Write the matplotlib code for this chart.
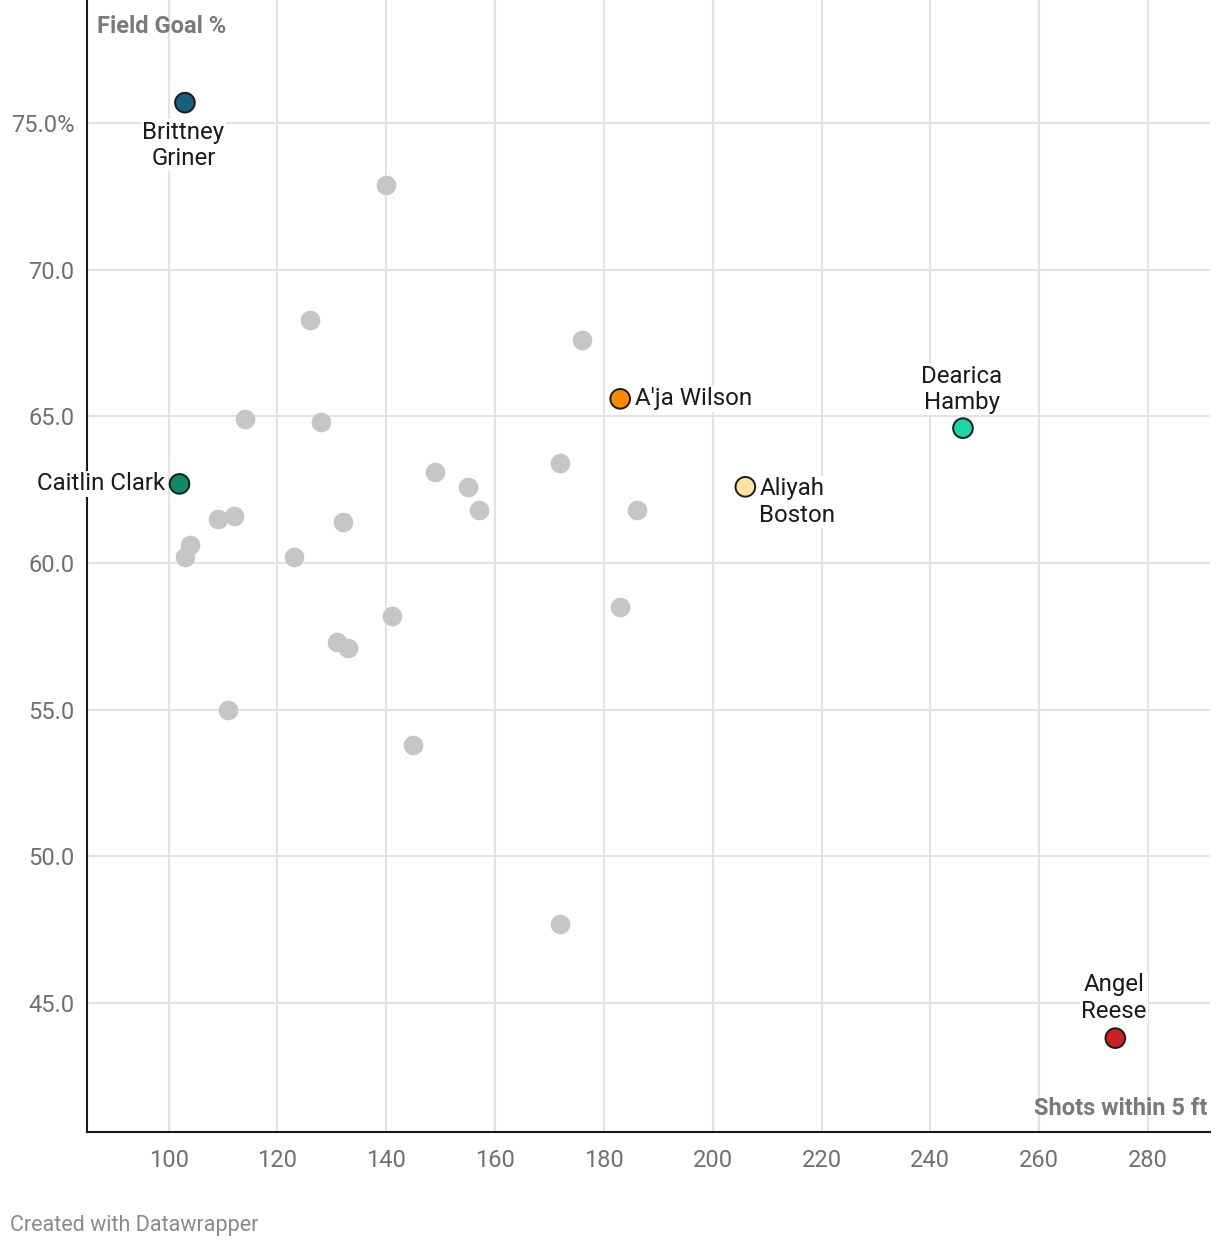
import matplotlib.pyplot as plt

plt.rcParams['font.family'] = ['Roboto', 'DejaVu Sans']

# --- DATA ---
gray_x = [140, 126, 176, 114, 128, 149, 155, 172, 157, 186, 109, 112, 132, 104, 103,
          123, 183, 141, 131, 133, 111, 145, 172]
gray_y = [72.9, 68.3, 67.6, 64.9, 64.8, 63.1, 62.6, 63.4, 61.8, 61.8, 61.5, 61.6, 61.4,
          60.6, 60.2, 60.2, 58.5, 58.2, 57.3, 57.1, 55.0, 53.8, 47.7]

names = ["Brittney\nGriner", "A'ja Wilson", "Dearica\nHamby", "Caitlin Clark",
         "Aliyah\nBoston", "Angel\nReese"]
hl_x = [103, 183, 246, 102, 206, 274]
hl_y = [75.7, 65.6, 64.6, 62.7, 62.6, 43.8]
hl_colors = ["#15607a", "#f88a02", "#1ad6a9", "#0c8a6a", "#fde3a0", "#c92126"]

x_ticks = [100, 120, 140, 160, 180, 200, 220, 240, 260, 280]
y_ticks = [45, 50, 55, 60, 65, 70, 75]
y_labels = ["45.0", "50.0", "55.0", "60.0", "65.0", "70.0", "75.0%"]

# --- PLOT ---
fig = plt.figure(figsize=(12.2, 12.48), dpi=100)
ax = fig.add_axes([87 / 1220, 116 / 1248, 1123 / 1220, 1132 / 1248])

ax.set_xlim(85, 291.4)
ax.set_ylim(40.6, 79.2)

ax.scatter(gray_x, gray_y, s=200, color="#c6c6c6", linewidths=0, zorder=3)
ax.scatter(hl_x, hl_y, s=200, color=hl_colors, edgecolors="#1a1a1a",
           linewidths=1.4, zorder=4)

# label placement (offsets in points)
offsets = [(-1, -13, "center", "top"), (11, 0, "left", "center"),
           (-1, 10, "center", "bottom"), (-10, 0, "right", "center"),
           (10, 7, "left", "top"), (-1, 11, "center", "bottom")]
for n, x, y, (dx, dy, ha, va) in zip(names, hl_x, hl_y, offsets):
    ax.annotate(n, (x, y), xytext=(dx, dy), textcoords="offset points",
                ha=ha, va=va, fontsize=17.3, color="#1a1a1a", linespacing=1.2,
                zorder=5, annotation_clip=False,
                bbox=dict(boxstyle="square,pad=0.05", fc="white", ec="none"))

ax.set_xticks(x_ticks)
ax.set_yticks(y_ticks)
ax.set_yticklabels(y_labels)
ax.tick_params(length=0, labelsize=17, labelcolor="#707070")
ax.tick_params(axis="x", pad=12)
ax.tick_params(axis="y", pad=9)
ax.grid(True, color="#e3e3e3", linewidth=1.5, zorder=0)
ax.set_axisbelow(True)

for s in ["top", "right"]:
    ax.spines[s].set_visible(False)
for s in ["left", "bottom"]:
    ax.spines[s].set_color("#1a1a1a")
    ax.spines[s].set_linewidth(1.5)

ax.text(0.009, 0.987, "Field Goal %", transform=ax.transAxes, ha="left", va="top",
        fontsize=17, fontweight="bold", color="#7a7a7a")
ax.text(0.998, 0.011, "Shots within 5 ft", transform=ax.transAxes, ha="right",
        va="bottom", fontsize=17, fontweight="bold", color="#7a7a7a")

fig.text(10 / 1220, 1 - 1225 / 1248, "Created with Datawrapper", ha="left",
         va="center", fontsize=15.5, color="#8a8a8a")

fig.savefig("out.png", dpi=100)
